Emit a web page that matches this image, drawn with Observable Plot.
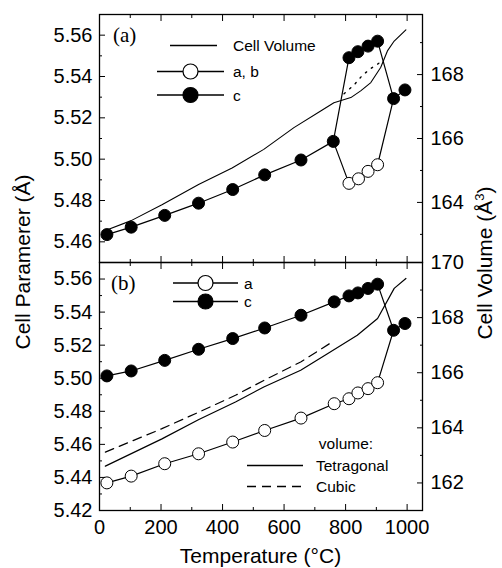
<!DOCTYPE html>
<html><head><meta charset="utf-8">
<script src="https://cdn.jsdelivr.net/npm/d3@7"></script>
<script src="https://cdn.jsdelivr.net/npm/@observablehq/plot@0.6"></script>
<style>
body{margin:0;background:#fff}
#chart{position:relative;width:502px;height:568px;background:#fff;font-family:"Liberation Sans",Arial,sans-serif}
#chart svg{position:absolute;left:0}
</style></head><body><div id="chart"></div>
<script>
// ---------- data ----------
const xMajor = [0, 200, 400, 600, 800, 1000];
const xMinor = [100, 300, 500, 700, 900];

// panel (a)
const aTempC = [24, 103, 212, 322, 433, 537, 655, 760, 811, 840, 873, 904, 956, 993];
const aC = [5.4635, 5.4671, 5.4728, 5.4787, 5.4853, 5.4924, 5.4996, 5.5086, 5.5491, 5.5520, 5.5547, 5.5571, 5.5293, 5.5335];
const aTempAB = [811, 842, 873, 904];
const aAB = [5.4883, 5.4905, 5.4941, 5.4973];
const aTempVol = [13, 103, 203, 322, 431, 534, 632, 719, 762, 817, 849, 882, 914, 936, 958, 996];
const aVol = [163.10, 163.43, 163.93, 164.56, 165.08, 165.66, 166.34, 166.86, 167.12, 167.28, 167.49, 167.75, 168.22, 168.74, 169.05, 169.40];
const aTempVolDot = [795, 827, 855, 882, 920];
const aVolDot = [167.40, 167.67, 167.98, 168.19, 168.43];
const aLeftMajor = [5.46, 5.48, 5.50, 5.52, 5.54, 5.56];
const aLeftMinor = [5.47, 5.49, 5.51, 5.53, 5.55];
const aRightMajor = [164, 166, 168];
const aRightMinor = [163, 165, 167, 169];

// panel (b)
const bTempC = [24, 103, 212, 322, 433, 537, 655, 763, 811, 840, 873, 904, 956, 993];
const bC = [5.5014, 5.5044, 5.5108, 5.5175, 5.5240, 5.5304, 5.5381, 5.5462, 5.5498, 5.5516, 5.5543, 5.5569, 5.5290, 5.5331];
const bTempA = [24, 103, 212, 322, 433, 537, 655, 763, 811, 840, 873, 904];
const bA = [5.4367, 5.4408, 5.4483, 5.4543, 5.4614, 5.4684, 5.4759, 5.4846, 5.4876, 5.4911, 5.4937, 5.4973];
const bTempTet = [19, 203, 323, 442, 534, 654, 741, 838, 904, 958, 996];
const bVolTet = [162.61, 163.60, 164.30, 164.94, 165.48, 166.09, 166.69, 167.36, 167.97, 169.06, 169.42];
const bTempCub = [19, 203, 323, 442, 534, 654, 757];
const bVolCub = [163.12, 163.97, 164.57, 165.18, 165.72, 166.39, 167.12];
const bLeftMajor = [5.42, 5.44, 5.46, 5.48, 5.50, 5.52, 5.54, 5.56];
const bLeftMinor = [5.43, 5.45, 5.47, 5.49, 5.51, 5.53, 5.55];
const bRightMajor = [162, 164, 166, 168, 170];
const bRightMinor = [163, 165, 167, 169];

// ---------- helpers ----------
const zip = (xs, ys) => xs.map((x, i) => ({x, y: ys[i]}));
const W = 502, ML = 99, MR = 80;
const xDomain = [0, 1050];
const FONT = "Liberation Sans, Arial, sans-serif";
const baseStyle = {background: "transparent", overflow: "visible", fontFamily: FONT, fontSize: "20px", color: "black"};
const f2 = d3.format(".2f");

function panel({top, height, marginTop, marginBottom, yDomain, vDomain, leftMajor, leftMinor, rightMajor, rightMinor, xLabels, data}) {
  const [y0, y1] = yDomain, [v0, v1] = vDomain;
  const toY = v => y0 + (v - v0) / (v1 - v0) * (y1 - y0);
  const toV = y => v0 + (y - y0) / (y1 - y0) * (v1 - v0);
  const marks = [];
  for (const m of data(toY)) marks.push(m);
  marks.push(
    Plot.frame({stroke: "black", strokeWidth: 1.3}),
    Plot.axisX(xMajor, {anchor: "bottom", tickSize: -6, tickPadding: 15, tickFormat: xLabels ? (d => String(d)) : (() => ""), label: null}),
    Plot.axisX(xMinor, {anchor: "bottom", tickSize: -3, tickFormat: () => "", label: null}),
    Plot.axisX(xMajor, {anchor: "top", tickSize: -6, tickFormat: () => "", label: null}),
    Plot.axisX(xMinor, {anchor: "top", tickSize: -3, tickFormat: () => "", label: null}),
    Plot.axisY(leftMajor, {anchor: "left", tickSize: -6, tickPadding: 13, tickFormat: f2, label: null}),
    Plot.axisY(leftMinor, {anchor: "left", tickSize: -3, tickFormat: () => "", label: null}),
    Plot.axisY(rightMajor.map(toY), {anchor: "right", tickSize: -6, tickPadding: 14, tickFormat: d => String(Math.round(toV(d))), label: null}),
    Plot.axisY(rightMinor.map(toY), {anchor: "right", tickSize: -3, tickFormat: () => "", label: null})
  );
  const svg = Plot.plot({
    width: W, height, marginLeft: ML, marginRight: MR, marginTop, marginBottom,
    style: baseStyle,
    x: {domain: xDomain, axis: null},
    y: {domain: yDomain, axis: null},
    marks
  });
  svg.style.top = top + "px";
  return svg;
}

const lineOpt = {x: "x", y: "y", stroke: "black", strokeWidth: 1.2};

// panel (a)
const aRowsC = zip(aTempC, aC);
const aRowsAB = zip(aTempAB, aAB);
const aAbLine = [aRowsC[7], ...aRowsAB, aRowsC[12]];
const svgA = panel({
  top: 0, height: 266, marginTop: 14, marginBottom: 4,
  yDomain: [5.45, 5.57], vDomain: [162.12, 169.88],
  leftMajor: aLeftMajor, leftMinor: aLeftMinor, rightMajor: aRightMajor, rightMinor: aRightMinor,
  xLabels: false,
  data: toY => [
    Plot.line(zip(aTempVol, aVol.map(toY)), {...lineOpt, strokeWidth: 1.1}),
    Plot.line(zip(aTempVolDot, aVolDot.map(toY)), {...lineOpt, strokeWidth: 1.4, strokeDasharray: "1.5,6"}),
    Plot.line(aRowsC, lineOpt),
    Plot.line(aAbLine, lineOpt),
    Plot.dot(aRowsAB, {x: "x", y: "y", r: 6, fill: "white", stroke: "black", strokeWidth: 1}),
    Plot.dot(aRowsC, {x: "x", y: "y", r: 6, fill: "black", stroke: "black", strokeWidth: 1})
  ]
});

// panel (b)
const bRowsC = zip(bTempC, bC);
const bRowsA = zip(bTempA, bA);
const bALine = [...bRowsA, bRowsC[12]];
const svgB = panel({
  top: 258, height: 310, marginTop: 4, marginBottom: 58,
  yDomain: [5.42, 5.57], vDomain: [161, 170],
  leftMajor: bLeftMajor, leftMinor: bLeftMinor, rightMajor: bRightMajor, rightMinor: bRightMinor,
  xLabels: true,
  data: toY => [
    Plot.line(zip(bTempTet, bVolTet.map(toY)), {...lineOpt, strokeWidth: 1.2}),
    Plot.line(zip(bTempCub, bVolCub.map(toY)), {...lineOpt, strokeWidth: 1.2, strokeDasharray: "9,6"}),
    Plot.line(bRowsC, lineOpt),
    Plot.line(bALine, lineOpt),
    Plot.dot(bRowsA, {x: "x", y: "y", r: 6, fill: "white", stroke: "black", strokeWidth: 1}),
    Plot.dot(bRowsC, {x: "x", y: "y", r: 6, fill: "black", stroke: "black", strokeWidth: 1})
  ]
});

const chart = document.getElementById("chart");
chart.appendChild(svgA);
chart.appendChild(svgB);

// ---------- overlay: titles & legends ----------
const ov = d3.select(chart).append("svg")
  .attr("width", W).attr("height", 568)
  .style("top", "0px").style("overflow", "visible")
  .attr("font-family", FONT);

ov.append("text").attr("x", 260.5).attr("y", 563).attr("text-anchor", "middle")
  .attr("font-size", 21).text("Temperature (°C)");
ov.append("text").attr("transform", "translate(30,262) rotate(-90)").attr("text-anchor", "middle")
  .attr("font-size", 21).text("Cell Paramerer (Å)");
const rt = ov.append("text").attr("transform", "translate(492,263) rotate(-90)").attr("text-anchor", "middle")
  .attr("font-size", 21);
rt.append("tspan").text("Cell Volume (Å");
rt.append("tspan").attr("font-size", 13).attr("dy", -8).text("3");
rt.append("tspan").attr("dy", 8).text(")");

// panel tags
ov.append("text").attr("x", 113).attr("y", 42).attr("font-family", "Liberation Serif, Times New Roman, serif")
  .attr("font-size", 21).text("(a)");
ov.append("text").attr("x", 111).attr("y", 290).attr("font-family", "Liberation Serif, Times New Roman, serif")
  .attr("font-size", 21).text("(b)");

function legendItem(g, {x1, x2, y, dash, dot, label, tx}) {
  g.append("line").attr("x1", x1).attr("x2", x2).attr("y1", y).attr("y2", y)
    .attr("stroke", "black").attr("stroke-width", 1.3).attr("stroke-dasharray", dash || null);
  if (dot) g.append("circle").attr("cx", (x1 + x2) / 2).attr("cy", y).attr("r", 7.5)
    .attr("fill", dot).attr("stroke", "black").attr("stroke-width", 1.2);
  g.append("text").attr("x", tx).attr("y", y).attr("dy", "0.36em").attr("font-size", 15.5).text(label);
}
legendItem(ov, {x1: 170, x2: 217, y: 45.5, label: "Cell Volume", tx: 233});
legendItem(ov, {x1: 157, x2: 224, y: 71.5, dot: "white", label: "a, b", tx: 233});
legendItem(ov, {x1: 157, x2: 224, y: 95, dot: "black", label: "c", tx: 233});
legendItem(ov, {x1: 173, x2: 238, y: 283, dot: "white", label: "a", tx: 244});
legendItem(ov, {x1: 173, x2: 238, y: 301.5, dot: "black", label: "c", tx: 244});
ov.append("text").attr("x", 346).attr("y", 443).attr("dy", "0.36em").attr("text-anchor", "middle")
  .attr("font-size", 15.5).text("volume:");
legendItem(ov, {x1: 247, x2: 303, y: 465.5, label: "Tetragonal", tx: 316});
legendItem(ov, {x1: 247, x2: 303, y: 486.5, dash: "9,6", label: "Cubic", tx: 316});
</script></body></html>
